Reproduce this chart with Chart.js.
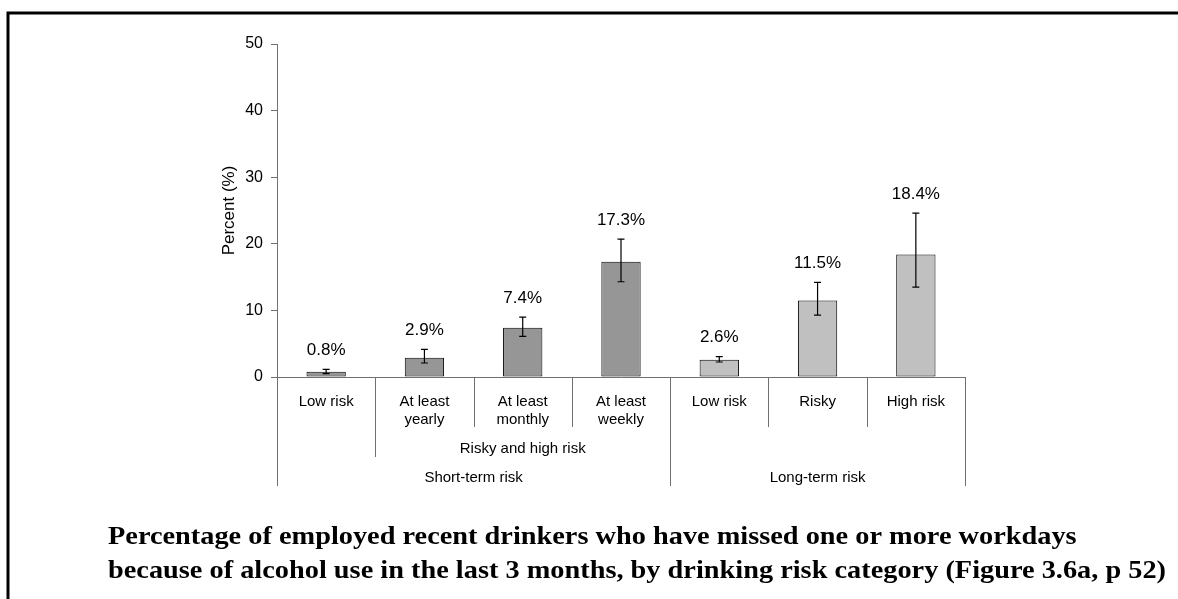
<!DOCTYPE html>
<html>
<head>
<meta charset="utf-8">
<script src="https://cdn.jsdelivr.net/npm/chart.js@4/dist/chart.umd.min.js"></script>
<style>
  html, body { margin: 0; padding: 0; background: #fff; }
  #wrap { position: relative; width: 1178px; height: 599px; }
</style>
</head>
<body>
<div id="wrap"><canvas id="missedChart"></canvas></div>
<script>
// Datos de la figura
const categories = [['Low risk'], ['At least', 'yearly'], ['At least', 'monthly'], ['At least', 'weekly'], ['Low risk'], ['Risky'], ['High risk']];
const percent = [0.8, 2.9, 7.4, 17.3, 2.6, 11.5, 18.4];
const ciLow = [0.5, 2.1, 6.1, 14.3, 2.25, 9.3, 13.5];
const ciHigh = [1.15, 4.15, 9.0, 20.7, 3.05, 14.2, 24.6];
const barColors = ['#969696', '#969696', '#969696', '#969696', '#c0c0c0', '#c0c0c0', '#c0c0c0'];
const yTicks = [0, 10, 20, 30, 40, 50];

// Agrupaciones del eje X
const subLabels = ['Risky and high risk'];
const subFrom = [1];
const subTo = [3];
const groupLabels = ['Short-term risk', 'Long-term risk'];
const groupFrom = [0, 4];
const groupTo = [3, 6];

const captionLines = [
    'Percentage of employed recent drinkers who have missed one or more workdays',
    'because of alcohol use in the last 3 months, by drinking risk category (Figure 3.6a, p 52)'
];

const SANS = "'Liberation Sans', Arial, sans-serif";
const AXIS_GRAY = '#707070';

// --- Plugin: barras de error, etiquetas de valor, ejes agrupados, marco y pie ---
const extrasPlugin = {
    id: 'extras',
    afterDatasetsDraw(chart) {
        const ctx = chart.ctx;
        const x = chart.scales.x;
        const y = chart.scales.y;
        ctx.save();

        // barras de error
        ctx.strokeStyle = '#000';
        ctx.lineWidth = 1.2;
        percent.forEach((v, i) => {
            const cx = x.getPixelForValue(i);
            const yl = y.getPixelForValue(ciLow[i]);
            const yh = y.getPixelForValue(ciHigh[i]);
            ctx.beginPath();
            ctx.moveTo(cx, yl); ctx.lineTo(cx, yh);
            ctx.moveTo(cx - 3.5, yl); ctx.lineTo(cx + 3.5, yl);
            ctx.moveTo(cx - 3.5, yh); ctx.lineTo(cx + 3.5, yh);
            ctx.stroke();
        });

        // etiquetas de valor
        ctx.fillStyle = '#000';
        ctx.font = '17px ' + SANS;
        ctx.textAlign = 'center';
        ctx.textBaseline = 'middle';
        percent.forEach((v, i) => {
            ctx.fillText(v.toFixed(1) + '%', x.getPixelForValue(i), y.getPixelForValue(ciHigh[i]) - 19);
        });

        // separadores de categorías
        const base = y.getPixelForValue(0);
        const edge = i => x.getPixelForValue(i - 0.5);
        ctx.strokeStyle = AXIS_GRAY;
        ctx.lineWidth = 1;
        const vline = (px, y0, y1) => {
            ctx.beginPath();
            ctx.moveTo(Math.round(px) + 0.5, y0);
            ctx.lineTo(Math.round(px) + 0.5, y1);
            ctx.stroke();
        };
        for (let i = 1; i < categories.length; i++) vline(edge(i), base, base + 50);
        subFrom.forEach(f => vline(edge(f), base, base + 80));
        vline(edge(0), base, base + 109);
        groupTo.forEach(t => vline(edge(t + 1), base, base + 109));

        // etiquetas de grupo
        ctx.font = '15px ' + SANS;
        ctx.fillStyle = '#000';
        subLabels.forEach((lab, k) => {
            ctx.fillText(lab, (edge(subFrom[k]) + edge(groupTo[0] + 1)) / 2, base + 72);
        });
        groupLabels.forEach((lab, k) => {
            ctx.fillText(lab, (edge(groupFrom[k]) + edge(groupTo[k] + 1)) / 2, base + 101);
        });
        ctx.restore();
    },
    afterDraw(chart) {
        const ctx = chart.ctx;
        ctx.save();
        // marco exterior
        ctx.strokeStyle = '#000';
        ctx.lineWidth = 3;
        ctx.beginPath();
        ctx.moveTo(8, 599);
        ctx.lineTo(8, 13);
        ctx.lineTo(1178, 13);
        ctx.stroke();

        // pie de figura
        ctx.fillStyle = '#000';
        ctx.font = "bold 25px 'Liberation Serif', 'DejaVu Serif', serif";
        ctx.textAlign = 'left';
        ctx.textBaseline = 'middle';
        const sx = 1058 / ctx.measureText(captionLines[1]).width;
        ctx.translate(108, 0);
        ctx.scale(sx, 1);
        ctx.fillText(captionLines[0], 0, 538);
        ctx.fillText(captionLines[1], 0, 572);
        ctx.restore();
    }
};

document.addEventListener('DOMContentLoaded', function() {
    const ctx = document.getElementById('missedChart').getContext('2d');
    new Chart(ctx, {
        type: 'bar',
        data: {
            labels: categories,
            datasets: [{
                label: 'Percent',
                data: percent,
                backgroundColor: barColors,
                borderColor: '#000',
                borderWidth: 1,
                borderSkipped: false,
                barPercentage: 0.4,
                categoryPercentage: 1.0
            }]
        },
        options: {
            responsive: true,
            maintainAspectRatio: false,
            animation: false,
            layout: { padding: { left: 215, right: 213, top: 44, bottom: 0 } },
            plugins: {
                legend: { display: false },
                tooltip: { enabled: false }
            },
            scales: {
                x: {
                    afterFit(scale) { scale.height = 222; },
                    grid: { display: false },
                    border: { display: true, color: AXIS_GRAY, width: 1 },
                    ticks: {
                        color: '#000',
                        font: { family: SANS, size: 15, lineHeight: 1.25 },
                        padding: 7,
                        maxRotation: 0,
                        autoSkip: false
                    }
                },
                y: {
                    min: 0,
                    max: 50,
                    afterFit(scale) { scale.width = 62; },
                    afterBuildTicks(scale) { scale.ticks = yTicks.map(v => ({ value: v })); },
                    grid: { drawOnChartArea: false, drawTicks: true, tickLength: 6, color: AXIS_GRAY },
                    border: { display: true, color: AXIS_GRAY, width: 1 },
                    ticks: { color: '#000', font: { family: SANS, size: 16 }, padding: 8 },
                    title: {
                        display: true,
                        text: 'Percent (%)',
                        color: '#000',
                        font: { family: SANS, size: 17 }
                    }
                }
            }
        },
        plugins: [extrasPlugin]
    });
});
</script>
</body>
</html>
